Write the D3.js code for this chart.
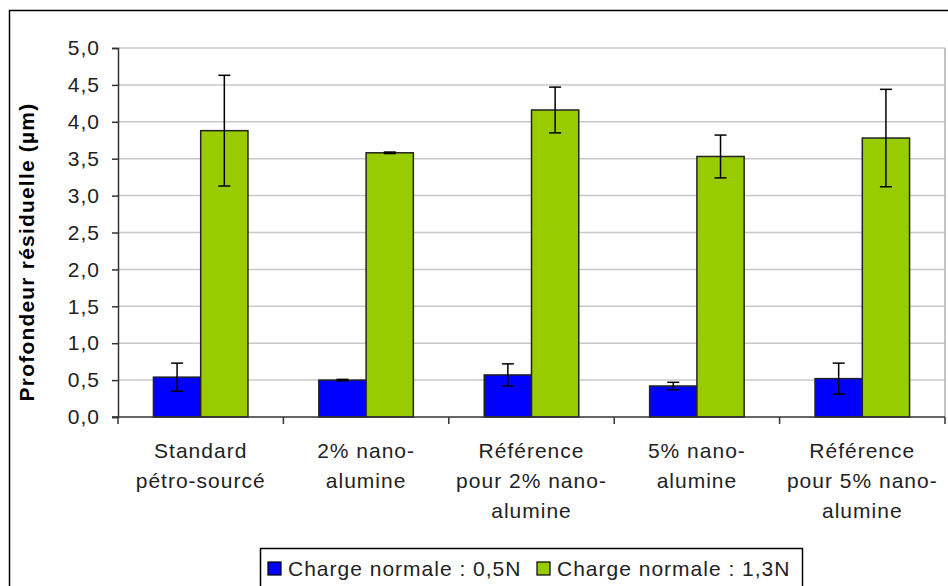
<!DOCTYPE html>
<html>
<head>
<meta charset="utf-8">
<script src="https://cdn.jsdelivr.net/npm/d3@7"></script>
<style>
    body { margin: 0; background: #fff; }
    svg { display: block; font-family: "Liberation Sans", Arial, sans-serif; }
</style>
</head>
<body>
<div id="chart"></div>
<script>
// Chart data
var categories = [
    ["Standard", "pétro-sourcé"],
    ["2% nano-", "alumine"],
    ["Référence", "pour 2% nano-", "alumine"],
    ["5% nano-", "alumine"],
    ["Référence", "pour 5% nano-", "alumine"]
];
var seriesNames = ["Charge normale : 0,5N", "Charge normale : 1,3N"];
var lowLoad = [0.54, 0.50, 0.57, 0.42, 0.52];
var lowLoadErr = [0.19, 0.01, 0.15, 0.05, 0.21];
var highLoad = [3.88, 3.58, 4.16, 3.53, 3.78];
var highLoadErr = [0.75, 0.01, 0.31, 0.29, 0.66];
var yTicks = [0, 0.5, 1, 1.5, 2, 2.5, 3, 3.5, 4, 4.5, 5];

(function () {
    "use strict";

    var width = 948, height = 586;
    var plot = {left: 118, right: 945, top: 48, bottom: 417};
    var colors = ["#0000ff", "#99cc00"];

    var svg = d3.select("#chart").append("svg")
        .attr("width", width)
        .attr("height", height);

    // outer chart border (right and bottom fall outside the picture)
    svg.append("rect")
        .attr("x", 9.5).attr("y", 10.5)
        .attr("width", 960).attr("height", 600)
        .attr("fill", "none").attr("stroke", "#000").attr("stroke-width", 1.5);

    var x = d3.scaleBand()
        .domain(d3.range(categories.length))
        .range([plot.left, plot.right])
        .paddingInner(0).paddingOuter(0);

    var y = d3.scaleLinear().domain([0, 5]).range([plot.bottom, plot.top]);

    // bar width: Excel gap width 150% -> 2 bars + 1.5 bar = band
    var barW = x.bandwidth() / 3.5;

    // gridlines
    svg.append("g").selectAll("line")
        .data(yTicks.slice(1))
        .enter().append("line")
        .attr("x1", plot.left).attr("x2", plot.right)
        .attr("y1", function (d) { return y(d); })
        .attr("y2", function (d) { return y(d); })
        .attr("stroke", "#c8c8c8").attr("stroke-width", 1.5);

    // right plot border
    svg.append("line")
        .attr("x1", plot.right).attr("x2", plot.right)
        .attr("y1", plot.top).attr("y2", plot.bottom)
        .attr("stroke", "#b0b0b0").attr("stroke-width", 1.5);

    // y axis
    var yAxis = d3.axisLeft(y)
        .tickValues(yTicks)
        .tickSize(6)
        .tickPadding(12)
        .tickFormat(function (d) { return d3.format(".1f")(d).replace(".", ","); });

    var gy = svg.append("g")
        .attr("transform", "translate(" + plot.left + ",0)")
        .call(yAxis);
    gy.select(".domain").attr("stroke", "#333").attr("stroke-width", 1.5);
    gy.selectAll(".tick line").attr("stroke", "#333").attr("stroke-width", 1.5);
    gy.selectAll(".tick text")
        .attr("fill", "#222")
        .style("font-size", "21px")
        .style("letter-spacing", "1px");

    // bars
    var groups = [lowLoad, highLoad];
    var errs = [lowLoadErr, highLoadErr];
    groups.forEach(function (vals, s) {
        var g = svg.append("g");
        g.selectAll("rect")
            .data(vals)
            .enter().append("rect")
            .attr("x", function (d, i) { return x(i) + barW * 0.75 + s * barW; })
            .attr("y", function (d) { return y(d); })
            .attr("width", barW)
            .attr("height", function (d) { return y(0) - y(d); })
            .attr("fill", colors[s])
            .attr("stroke", "#222").attr("stroke-width", 1.5);
    });

    // error bars
    groups.forEach(function (vals, s) {
        var g = svg.append("g").attr("stroke", "#000").attr("stroke-width", 1.5);
        vals.forEach(function (v, i) {
            var cx = x(i) + barW * 0.75 + s * barW + barW / 2;
            var hi = y(v + errs[s][i]), lo = y(v - errs[s][i]);
            g.append("line").attr("x1", cx).attr("x2", cx).attr("y1", hi).attr("y2", lo);
            g.append("line").attr("x1", cx - 6).attr("x2", cx + 6).attr("y1", hi).attr("y2", hi);
            g.append("line").attr("x1", cx - 6).attr("x2", cx + 6).attr("y1", lo).attr("y2", lo);
        });
    });

    // x axis line and category ticks
    svg.append("line")
        .attr("x1", plot.left - 6).attr("x2", plot.right)
        .attr("y1", plot.bottom).attr("y2", plot.bottom)
        .attr("stroke", "#333").attr("stroke-width", 1.5);
    svg.append("g").selectAll("line")
        .data(d3.range(categories.length + 1))
        .enter().append("line")
        .attr("x1", function (d) { return d < categories.length ? x(d) : plot.right; })
        .attr("x2", function (d) { return d < categories.length ? x(d) : plot.right; })
        .attr("y1", plot.bottom).attr("y2", plot.bottom + 7)
        .attr("stroke", "#333").attr("stroke-width", 1.5);

    // category labels
    var labels = svg.append("g").selectAll("text")
        .data(categories)
        .enter().append("text")
        .attr("text-anchor", "middle")
        .attr("fill", "#222")
        .style("font-size", "21px")
        .style("letter-spacing", "1px");
    labels.each(function (lines, i) {
        var t = d3.select(this);
        lines.forEach(function (line, k) {
            t.append("tspan")
                .attr("x", x(i) + x.bandwidth() / 2)
                .attr("y", 458 + k * 30)
                .text(line);
        });
    });

    // y axis title
    svg.append("text")
        .attr("transform", "translate(34,252) rotate(-90)")
        .attr("text-anchor", "middle")
        .attr("fill", "#000")
        .style("font-size", "21px")
        .style("font-weight", "bold")
        .style("letter-spacing", "1.2px")
        .text("Profondeur résiduelle (µm)");

    // legend
    var legend = svg.append("g");
    legend.append("rect")
        .attr("x", 260.5).attr("y", 548.5)
        .attr("width", 542).attr("height", 60)
        .attr("fill", "#fff").attr("stroke", "#000").attr("stroke-width", 1.5);
    var legendX = [268, 537];
    seriesNames.forEach(function (name, s) {
        legend.append("rect")
            .attr("x", legendX[s]).attr("y", 562)
            .attr("width", 13).attr("height", 13)
            .attr("fill", colors[s]).attr("stroke", "#000").attr("stroke-width", 1.2);
        legend.append("text")
            .attr("x", legendX[s] + 20).attr("y", 576)
            .attr("fill", "#222")
            .style("font-size", "21px")
            .style("letter-spacing", "1px")
            .text(name);
    });
}());
</script>
</body>
</html>
